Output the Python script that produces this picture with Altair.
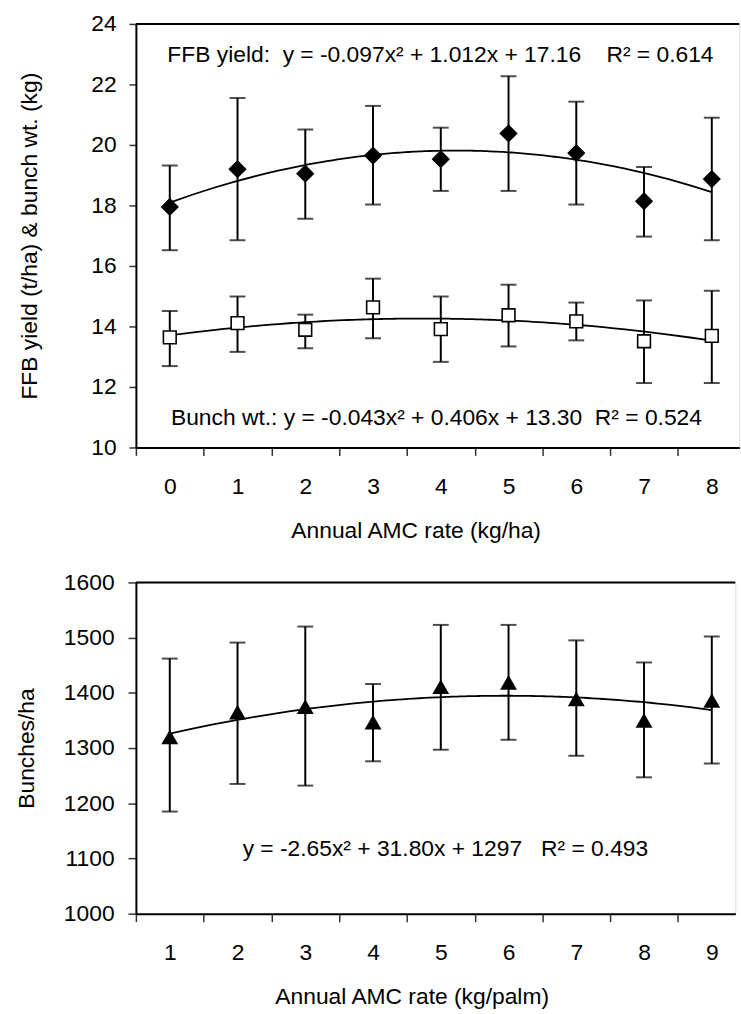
import altair as alt
import pandas as pd

# ---------------- data ----------------
rate_ha = [0, 1, 2, 3, 4, 5, 6, 7, 8]
ffb = [17.95, 19.20, 19.05, 19.65, 19.53, 20.38, 19.73, 18.14, 18.87]
ffb_lo = [16.52, 16.85, 17.56, 18.03, 18.48, 18.48, 18.03, 16.97, 16.85]
ffb_hi = [19.32, 21.55, 20.51, 21.29, 20.57, 22.27, 21.43, 19.27, 20.90]
bw = [13.64, 14.11, 13.89, 14.63, 13.91, 14.37, 14.17, 13.51, 13.69]
bw_lo = [12.69, 13.16, 13.28, 13.61, 12.83, 13.34, 13.54, 12.13, 12.13]
bw_hi = [14.51, 14.99, 14.39, 15.58, 14.99, 15.38, 14.79, 14.86, 15.18]

rate_palm = [1, 2, 3, 4, 5, 6, 7, 8, 9]
bunches = [1320, 1365, 1375, 1347, 1411, 1419, 1389, 1350, 1386]
bunches_lo = [1185, 1235, 1232, 1276, 1297, 1315, 1286, 1247, 1272]
bunches_hi = [1462, 1491, 1520, 1416, 1523, 1523, 1495, 1455, 1502]

top_ticks = [10, 12, 14, 16, 18, 20, 22, 24]
bottom_ticks = [1000, 1100, 1200, 1300, 1400, 1500, 1600]

ffb_label = ["FFB yield:\u00a0\u00a0y = -0.097x² + 1.012x + 17.16\u00a0\u00a0\u00a0\u00a0R² = 0.614"]
bw_label = ["Bunch wt.: y = -0.043x² + 0.406x + 13.30\u00a0\u00a0R² = 0.524"]
bun_label = ["y = -2.65x² + 31.80x + 1297\u00a0\u00a0\u00a0R² = 0.493"]

FONT = "Liberation Sans"
FS = 23
BAND = 68.3

top_df = pd.DataFrame({"rate": rate_ha, "ffb": ffb, "ffb_lo": ffb_lo, "ffb_hi": ffb_hi,
                       "bw": bw, "bw_lo": bw_lo, "bw_hi": bw_hi})
bot_df = pd.DataFrame({"rate": rate_palm, "bun": bunches, "lo": bunches_lo, "hi": bunches_hi})

# ---------------- top panel ----------------
TW, TH = 608.3, 427
xa_top = alt.Axis(values=rate_ha, tickOffset=-BAND / 2, labelOffset=BAND / 2,
                  labelFlush=False, labelOverlap=False, grid=False, format="d",
                  domainColor="black", domainWidth=2, tickColor="#333", tickWidth=1.5,
                  tickSize=8, labelPadding=20, labelFont=FONT, labelFontSize=FS,
                  labelColor="black", title="Annual AMC rate (kg/ha)", titleFont=FONT,
                  titleFontSize=FS, titleFontWeight="normal", titleColor="black",
                  titleX=282, titleY=84, titleAlign="center", titleBaseline="middle", titleAngle=0)
ya_top = alt.Axis(values=top_ticks, labelFlush=False, labelOverlap=False, grid=False, format="d",
                  domainColor="black", domainWidth=2, tickColor="#333", tickWidth=1.5,
                  tickSize=7, labelPadding=13, labelFont=FONT, labelFontSize=FS,
                  labelColor="black", title="FFB yield (t/ha) & bunch wt. (kg)",
                  titleFont=FONT, titleFontSize=FS, titleFontWeight="normal",
                  titleColor="black", titleX=-106.7, titleY=TH / 2, titleAngle=270,
                  titleAlign="center", titleBaseline="middle")
xs_top = alt.Scale(domain=[-0.5, -0.5 + TW / BAND], nice=False, zero=False)
ys_top = alt.Scale(domain=[10, 24], nice=False, zero=False)

X = alt.X("rate:Q", scale=xs_top, axis=xa_top)


def Y(field):
    return alt.Y(f"{field}:Q", scale=ys_top, axis=ya_top)


base_t = alt.Chart(top_df)


def series(val, lo, hi, shape, fill, size):
    bars = base_t.mark_rule(color="black", strokeWidth=2).encode(x=X, y=Y(lo), y2=f"{hi}:Q")
    cap_lo = base_t.mark_tick(color="black", orient="horizontal", size=16, thickness=2).encode(x=X, y=Y(lo))
    cap_hi = base_t.mark_tick(color="black", orient="horizontal", size=16, thickness=2).encode(x=X, y=Y(hi))
    trend = base_t.transform_regression("rate", val, method="poly", order=2).mark_line(
        color="black", strokeWidth=1.8).encode(x=X, y=Y(val))
    pts = base_t.mark_point(shape=shape, size=size, filled=False, fill=fill, fillOpacity=1,
                            stroke="black", strokeWidth=1.6, opacity=1).encode(x=X, y=Y(val))
    return [bars, cap_lo, cap_hi, trend, pts]


border_t = alt.Chart(pd.DataFrame({"k": [0]})).mark_rule(color="black", strokeWidth=2).encode(
    x=alt.value(0), x2=alt.value(TW), y=alt.value(0))
txt_ffb = alt.Chart(pd.DataFrame({"t": ffb_label})).mark_text(
    font=FONT, fontSize=FS, color="black", align="center", baseline="middle").encode(
    text="t:N", x=alt.value(307), y=alt.value(31))
txt_bw = alt.Chart(pd.DataFrame({"t": bw_label})).mark_text(
    font=FONT, fontSize=FS, color="black", align="center", baseline="middle").encode(
    text="t:N", x=alt.value(303), y=alt.value(397))

top = alt.layer(
    *series("ffb", "ffb_lo", "ffb_hi", "diamond", "black", 260),
    *series("bw", "bw_lo", "bw_hi", "square", "white", 165),
    border_t, txt_ffb, txt_bw,
).properties(width=TW, height=TH)

# ---------------- bottom panel ----------------
BW_, BH = 604.3, 334
xa_bot = alt.Axis(values=rate_palm, tickOffset=-BAND / 2, labelOffset=BAND / 2,
                  labelFlush=False, labelOverlap=False, grid=False, format="d",
                  domainColor="black", domainWidth=2, tickColor="#333", tickWidth=1.5,
                  tickSize=8, labelPadding=20, labelFont=FONT, labelFontSize=FS,
                  labelColor="black", title="Annual AMC rate (kg/palm)", titleFont=FONT,
                  titleFontSize=FS, titleFontWeight="normal", titleColor="black",
                  titleX=278, titleY=84, titleAlign="center", titleBaseline="middle", titleAngle=0)
ya_bot = alt.Axis(values=bottom_ticks, labelFlush=False, labelOverlap=False, grid=False, format="d",
                  domainColor="black", domainWidth=2, tickColor="#333", tickWidth=1.5,
                  tickSize=8, labelPadding=14, labelFont=FONT, labelFontSize=FS,
                  labelColor="black", title="Bunches/ha", titleFont=FONT, titleFontSize=FS,
                  titleFontWeight="normal", titleColor="black", titleX=-110.7, titleY=BH / 2,
                  titleAngle=270, titleAlign="center", titleBaseline="middle")
xs_bot = alt.Scale(domain=[0.5, 0.5 + BW_ / BAND], nice=False, zero=False)
ys_bot = alt.Scale(domain=[1000, 1600], nice=False, zero=False)

XB = alt.X("rate:Q", scale=xs_bot, axis=xa_bot)


def YB(field):
    return alt.Y(f"{field}:Q", scale=ys_bot, axis=ya_bot)


base_b = alt.Chart(bot_df)
b_bars = base_b.mark_rule(color="black", strokeWidth=2).encode(x=XB, y=YB("lo"), y2="hi:Q")
b_cap_lo = base_b.mark_tick(color="black", orient="horizontal", size=16, thickness=2).encode(x=XB, y=YB("lo"))
b_cap_hi = base_b.mark_tick(color="black", orient="horizontal", size=16, thickness=2).encode(x=XB, y=YB("hi"))
b_trend = base_b.transform_regression("rate", "bun", method="poly", order=2).mark_line(
    color="black", strokeWidth=1.8).encode(x=XB, y=YB("bun"))
b_pts = base_b.mark_point(shape="triangle-up", size=290, filled=True, color="black",
                          opacity=1).encode(x=XB, y=YB("bun"))
border_b = alt.Chart(pd.DataFrame({"k": [0]})).mark_rule(color="black", strokeWidth=2).encode(
    x=alt.value(0), x2=alt.value(BW_), y=alt.value(0))
txt_bun = alt.Chart(pd.DataFrame({"t": bun_label})).mark_text(
    font=FONT, fontSize=FS, color="black", align="center", baseline="middle").encode(
    text="t:N", x=alt.value(312), y=alt.value(269))

bottom = alt.layer(b_bars, b_cap_lo, b_cap_hi, b_trend, b_pts, border_b, txt_bun).properties(
    width=BW_, height=BH)

chart = alt.vconcat(top, bottom, spacing=27).properties(
    padding={"left": 14, "top": 8, "right": 0, "bottom": 0}
).configure_view(stroke=None).configure(background="white")

chart.save("out.html", embed_options={"renderer": "svg", "actions": False})
